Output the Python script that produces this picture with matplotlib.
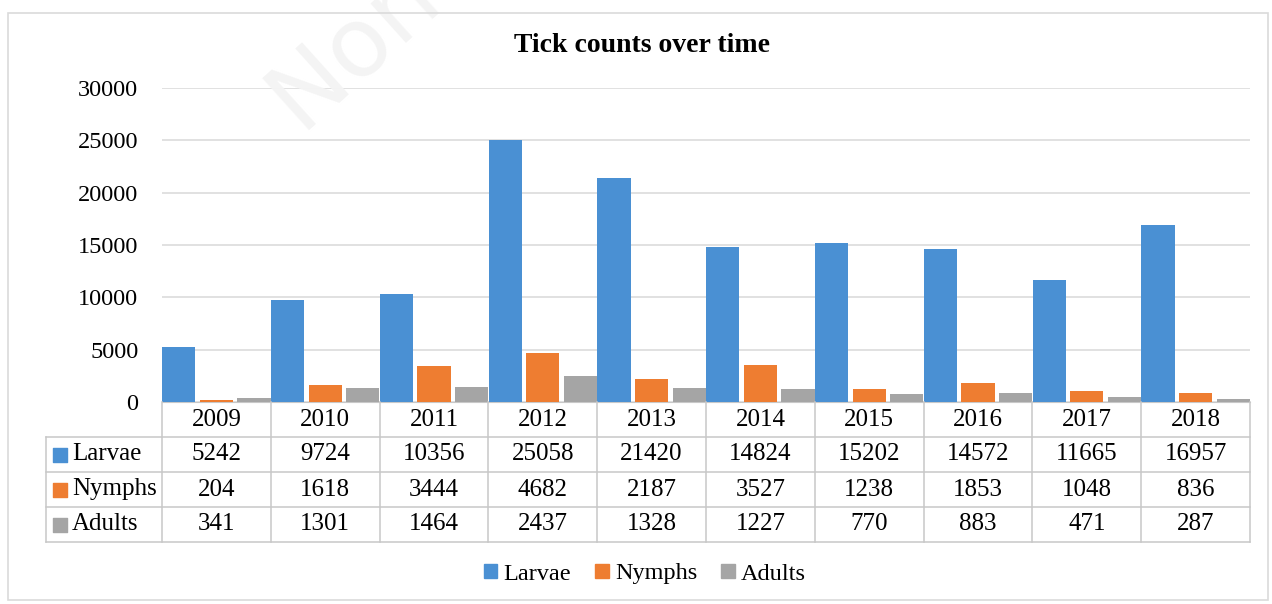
import numpy as np
import matplotlib.pyplot as plt
from matplotlib.patches import Rectangle

plt.rcParams['font.family'] = ['Liberation Serif', 'DejaVu Serif']

years = ['2009', '2010', '2011', '2012', '2013', '2014', '2015', '2016', '2017', '2018']
series_names = ['Larvae', 'Nymphs', 'Adults']
larvae = [5242, 9724, 10356, 25058, 21420, 14824, 15202, 14572, 11665, 16957]
nymphs = [204, 1618, 3444, 4682, 2187, 3527, 1238, 1853, 1048, 836]
adults = [341, 1301, 1464, 2437, 1328, 1227, 770, 883, 471, 287]
colors = ['#4A90D3', '#EE7D31', '#A5A5A5']

W, H = 1272, 604
fig = plt.figure(figsize=(W / 100, H / 100), dpi=100)

def box(l, t, r, b):
    # pixel box -> figure fraction
    return [l / W, 1 - b / H, (r - l) / W, (b - t) / H]

# faint watermark
fig.text(300 / W, 1 - 130 / H, 'Non', fontsize=70,
         family='DejaVu Sans', color='#F4F4F4', rotation=42,
         rotation_mode='anchor', ha='left', va='baseline', zorder=0)

# chart border
fig.patches.append(Rectangle((8 / W, 4 / H), 1260 / W, 587 / H, transform=fig.transFigure,
                             fill=False, ec='#DADADA', lw=1.2))

ax = fig.add_axes(box(162, 88, 1250, 402))
x = np.arange(len(years))
width = 0.305
offs = 0.345
for i, (vals, c) in enumerate(zip([larvae, nymphs, adults], colors)):
    ax.bar(x + (i - 1) * offs, vals, width, color=c, zorder=3)

ax.set_xlim(-0.5, len(years) - 0.5)
ax.set_ylim(0, 30000)
ax.set_yticks(np.arange(0, 30001, 5000))
ax.tick_params(axis='y', length=0, labelsize=17.5, pad=17)
ax.set_xticks([])
ax.yaxis.grid(True, color='#D9D9D9', lw=1.1, zorder=0)
for s in ['top', 'right', 'left']:
    ax.spines[s].set_visible(False)
ax.spines['bottom'].set_color('#C8C8C8')
fig.text(642 / W, 1 - 45 / H, 'Tick counts over time', fontsize=20,
         fontweight='bold', ha='center', va='center')

# data table under the bars
unit = 1088 / len(years)
lab_w = (162 - 46) / unit
tx = fig.add_axes(box(46, 402, 1250, 542))
x0 = -0.5 - lab_w
tx.set_xlim(x0, len(years) - 0.5)
tx.set_ylim(4, 0)
tx.axis('off')
lc = '#C8C8C8'
for r in range(1, 5):
    tx.plot([x0, len(years) - 0.5], [r, r], color=lc, lw=1.1, clip_on=False)
for i in range(len(years) + 1):
    tx.plot([i - 0.5, i - 0.5], [0, 4], color=lc, lw=1.1, clip_on=False)
tx.plot([x0, x0], [1, 4], color=lc, lw=1.1, clip_on=False)

for i, yr in enumerate(years):
    tx.text(i, 0.5, yr, ha='center', va='center', fontsize=18)
for r, (name, vals, c) in enumerate(zip(series_names, [larvae, nymphs, adults], colors)):
    tx.scatter([x0 + 0.13], [r + 1.5], marker='s', s=100, color=c, clip_on=False)
    tx.text(x0 + 0.24, r + 1.5, name, ha='left', va='center', fontsize=18)
    for i, v in enumerate(vals):
        tx.text(i, r + 1.5, str(v), ha='center', va='center', fontsize=18)

handles = [Rectangle((0, 0), 1, 1, color=c) for c in colors]
fig.legend(handles, series_names, loc='center', bbox_to_anchor=(645 / W, 1 - 574 / H),
           ncol=3, frameon=False, fontsize=17.5, handlelength=0.55, handleheight=0.55,
           handletextpad=0.25, columnspacing=1.0)

fig.savefig('out.png', dpi=100)
